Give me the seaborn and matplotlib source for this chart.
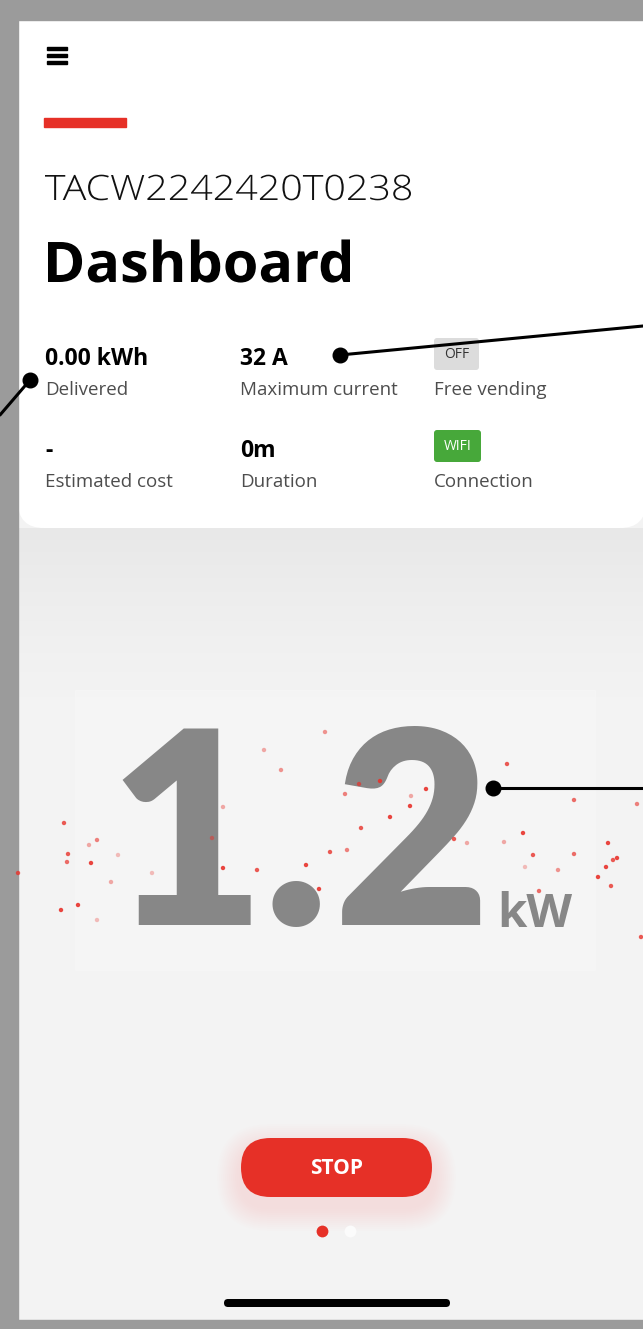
import numpy as np
import pandas as pd
import matplotlib.pyplot as plt
import seaborn as sns
from matplotlib.patches import FancyBboxPatch, Rectangle, PathPatch
from matplotlib.textpath import TextPath
from matplotlib.font_manager import FontProperties
from matplotlib.transforms import Affine2D

sns.set_theme(style="white")
plt.rcParams['font.family'] = ['Open Sans', 'DejaVu Sans']

serial = "TACW2242420T0238"
page_title = "Dashboard"
stat_values = ["0.00 kWh", "32 A", "-", "0m"]
stat_labels = ["Delivered", "Maximum current", "Estimated cost", "Duration"]
badge_texts = ["OFF", "WIFI"]
badge_labels = ["Free vending", "Connection"]
power_digits = ["1", ".", "2"]
power_unit = "kW"
button_text = "STOP"

# red particles around the power reading (pixel positions)
particle_x = [325, 264, 281, 507, 380, 359, 426, 345, 410, 411, 390, 223, 64, 97, 89, 68,
              91, 67, 361, 212, 454, 467, 523, 574, 637, 504, 330, 347, 533, 574, 608, 617,
              613, 606, 598, 611, 223, 257, 306, 319, 558, 539, 18, 61, 78, 111, 152, 97,
              641, 525, 118]
particle_y = [732, 750, 770, 764, 781, 784, 789, 794, 806, 796, 817, 807, 823, 840, 845, 854,
              863, 862, 828, 838, 839, 843, 833, 800, 804, 842, 852, 850, 855, 854, 843, 858,
              860, 867, 877, 886, 868, 870, 865, 889, 870, 891, 873, 910, 905, 882, 873, 920,
              937, 867, 855]
particle_alpha = [0.5, 0.4, 0.5, 0.8, 0.9, 0.7, 0.9, 0.6, 0.9, 0.4, 0.9, 0.4, 0.8, 0.6, 0.4, 0.8,
                  0.9, 0.7, 0.8, 0.5, 0.8, 0.4, 0.9, 0.7, 0.6, 0.4, 0.8, 0.6, 0.8, 0.7, 0.9, 0.9,
                  0.8, 0.9, 0.9, 0.8, 0.9, 0.8, 0.9, 0.9, 0.5, 0.7, 0.8, 0.9, 0.9, 0.4, 0.3, 0.3,
                  0.8, 0.3, 0.3]

# callout lines (start = dot end)
callout_start_x = [340, 30, 493]
callout_start_y = [355, 380, 788]
callout_end_x = [643, 0, 643]
callout_end_y = [326, 415, 788]

RED = "#e63027"
W, H = 643, 1329

fig = plt.figure(figsize=(W / 100, H / 100), dpi=100)
ax = fig.add_axes([0, 0, 1, 1])
ax.set_xlim(0, W)
ax.set_ylim(H, 0)
ax.axis("off")


def wide_text(x, y, s, size_px, width_px, family, weight, color, z=4):
    # text drawn as a path, stretched horizontally to the screenshot's width
    tp = TextPath((0, 0), s, size=size_px, prop=FontProperties(family=family, weight=weight))
    ext = tp.get_extents()
    fx = width_px / ext.width
    tr = Affine2D().translate(-ext.x0, 0).scale(fx, -1).translate(x, y)
    ax.add_patch(PathPatch(tr.transform_path(tp), fc=color, ec="none", zorder=z))


# outer frame and screen
ax.add_patch(Rectangle((0, 0), W, H, color="#9b9b9b", zorder=0))
ax.add_patch(Rectangle((18, 20), W - 18, 1300, color="#f3f3f3", zorder=1))
# soft shadow under the card
grad = np.linspace(0, 1, 200).reshape(-1, 1)
shade = np.dstack([np.full_like(grad, 0.91), np.full_like(grad, 0.91),
                   np.full_like(grad, 0.91), (1 - grad) ** 1.3])
ax.imshow(shade, extent=(18, W, 700, 528), aspect="auto", zorder=1.5, interpolation="bilinear")
# faint panel behind the big reading
ax.add_patch(Rectangle((75, 690), 520, 280, color="#f7f7f7", alpha=0.5, zorder=1.6))

# white card
ax.add_patch(FancyBboxPatch((18, -40), 628, 568, boxstyle="round,pad=0,rounding_size=26",
                            fc="white", ec="none", zorder=2))
ax.add_patch(Rectangle((0, 0), W, 20, color="#9b9b9b", zorder=3))
ax.add_patch(Rectangle((0, 0), 18, H, color="#9b9b9b", zorder=3))
ax.add_patch(Rectangle((0, 1320), W, 9, color="#9b9b9b", zorder=3))

# hamburger and red accent
for yy in [48, 55, 62]:
    ax.add_patch(Rectangle((47, yy - 1.5), 20, 3.5, color="black", zorder=4))
ax.add_patch(Rectangle((44, 118), 82, 9, color=RED, zorder=4))

wide_text(45, 200, serial, 35, 366, "Open Sans", "light", "#111111")
wide_text(48, 282, page_title, 56, 302, "Open Sans", "bold", "black")

col_x = [45, 240, 434]
row_val_y = [365, 457]
row_lab_y = [395, 487]
for i, (v, lab) in enumerate(zip(stat_values, stat_labels)):
    r, c = divmod(i, 2)
    ax.text(col_x[c], row_val_y[r], v, fontsize=16.5, fontweight="bold", color="black",
            va="baseline", zorder=4)
    ax.text(col_x[c], row_lab_y[r], lab, fontsize=13.5, color="#4d4d4d", va="baseline", zorder=4)

badge_colors = ["#dcdcdc", "#47a83a"]
badge_fg = ["#333333", "white"]
badge_w = [45, 47]
for r, (b, lab) in enumerate(zip(badge_texts, badge_labels)):
    top = row_val_y[r] - 27
    ax.add_patch(FancyBboxPatch((434, top), badge_w[r], 32, boxstyle="round,pad=0,rounding_size=3",
                                fc=badge_colors[r], ec="none", zorder=4))
    ax.text(434 + badge_w[r] / 2, top + 16, b, fontsize=10, color=badge_fg[r],
            ha="center", va="center", zorder=5)
    ax.text(col_x[2], row_lab_y[r], lab, fontsize=13.5, color="#4d4d4d", va="baseline", zorder=4)

# big power reading
digit_cx = [187, 296, 412]
for d, cx in zip(power_digits, digit_cx):
    ax.text(cx, 925, d, fontsize=194, fontweight="heavy", family="Lato", color="#878787",
            ha="center", va="baseline", zorder=3)
ax.text(497, 927, power_unit, fontsize=34, fontweight="bold", color="#878787",
        va="baseline", zorder=3)

parts = pd.DataFrame({"x": particle_x, "y": particle_y, "a": particle_alpha})
for a, grp in parts.groupby("a"):
    sns.scatterplot(data=grp, x="x", y="y", ax=ax, color="#e8322b", s=10, alpha=a,
                    edgecolor="none", zorder=5, legend=False)

# callouts
for sx, sy, ex, ey in zip(callout_start_x, callout_start_y, callout_end_x, callout_end_y):
    seg = pd.DataFrame({"x": [sx, ex], "y": [sy, ey]})
    sns.lineplot(data=seg, x="x", y="y", ax=ax, color="black", lw=2.2, sort=False, zorder=6)
    ax.plot(sx, sy, "o", color="black", ms=10.5, zorder=7)

# STOP button with a soft glow
for k in range(12):
    pad = 2 + k * 2
    ax.add_patch(FancyBboxPatch((241 - pad, 1138 - pad + 10), 191 + 2 * pad, 59 + 2 * pad,
                                boxstyle=f"round,pad=0,rounding_size={29.5 + pad}",
                                fc="#f4a0a0", ec="none", alpha=0.014, zorder=3))
ax.add_patch(FancyBboxPatch((241, 1138), 191, 59, boxstyle="round,pad=0,rounding_size=29.5",
                            fc=RED, ec="none", zorder=4))
ax.text(336.5, 1168, button_text, fontsize=15, fontweight="bold", color="white",
        ha="center", va="center", zorder=5)

ax.plot(322, 1231, "o", color=RED, ms=8.5, mec="none", zorder=5)
ax.plot(350, 1231, "o", color="#fbfbfb", ms=8.5, mec="none", zorder=5)

# home indicator
ax.add_patch(FancyBboxPatch((224, 1299), 226, 8, boxstyle="round,pad=0,rounding_size=4",
                            fc="black", ec="none", zorder=5))

ax.set_xlim(0, W)
ax.set_ylim(H, 0)
ax.set_xlabel("")
ax.set_ylabel("")
fig.savefig("out.png", dpi=100)
